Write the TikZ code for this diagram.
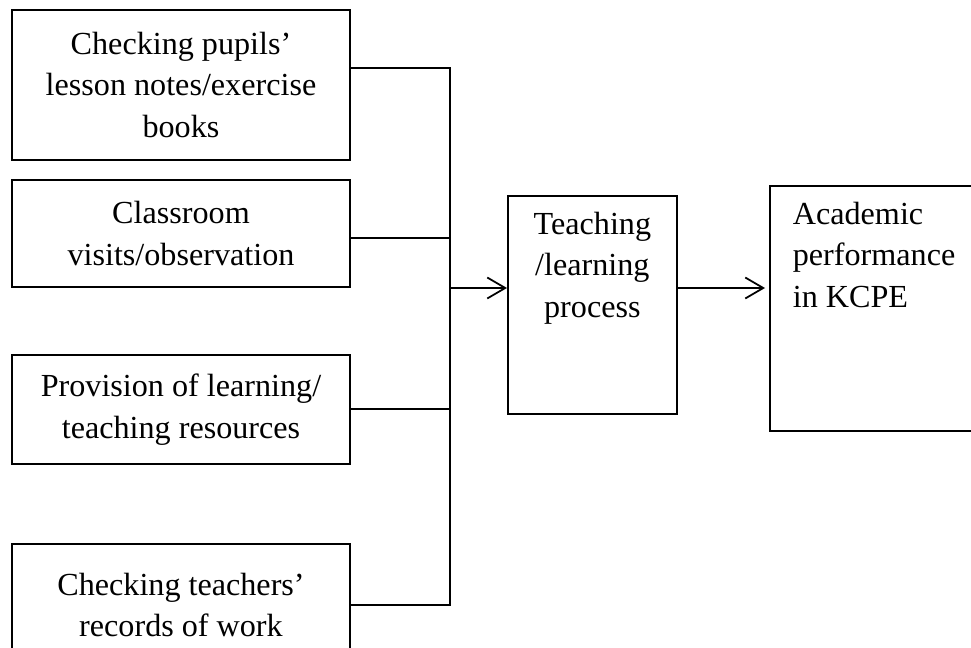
\documentclass[tikz,border=0pt]{standalone}
\usepackage{fontspec}
\setmainfont{Liberation Serif}
\usetikzlibrary{positioning,arrows.meta}

\begin{document}
\begin{tikzpicture}[x=0.02cm, y=-0.02cm, line width=1pt,
    factor/.style={draw, rectangle, minimum width=6.76cm, align=center, inner sep=0pt, font=\fontsize{18.3}{23.8}\selectfont},
    bigbox/.style={draw, rectangle, anchor=north west, inner sep=0pt},
    boxtext/.style={inner sep=0pt, font=\fontsize{18.3}{23.8}\selectfont},
    link/.style={-{Straight Barb[length=3.6mm, width=4.2mm]}}]
    \clip (0,0) rectangle (971,648);
    \node[factor, minimum height=3cm] (pupils) at (181,85) {Checking pupils'\\lesson notes/exercise\\books};
    \node[factor, minimum height=2.14cm] (visits) at (181,233.5) {Classroom\\visits/observation};
    \node[factor, minimum height=2.18cm] (resources) at (181,409.5) {Provision of learning/\\teaching resources};
    \node[factor, minimum height=2.44cm] (records) at (181,605) {Checking teachers'\\records of work};
    \node[bigbox, minimum width=3.38cm, minimum height=4.36cm] (proc) at (507,195) {};
    \node[boxtext, align=center, anchor=north] (proctext) at ([yshift=-0.32cm]proc.north) {Teaching\\/learning\\process};
    \node[bigbox, minimum width=5cm, minimum height=4.9cm] (perf) at (769,185) {};
    \node[boxtext, align=left, anchor=north west] (perftext) at ([xshift=0.46cm, yshift=-0.32cm]perf.north west) {Academic\\performance\\in KCPE};
    \draw ([yshift=0.34cm]pupils.east) -| ([xshift=1.98cm]records.east) -- (records.east);
    \draw ([yshift=-0.09cm]visits.east) -- ++(99,0);
    \draw ([yshift=0.01cm]resources.east) -- ++(99,0);
    \coordinate (join) at (449,288);
    \draw[link] (join) -- (join -| proc.west);
    \draw[link] (proc.east |- join) -- ([xshift=-0.08cm]perf.west |- join);
\end{tikzpicture}
\end{document}
